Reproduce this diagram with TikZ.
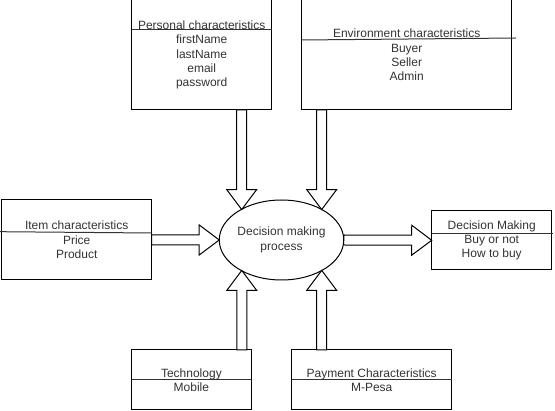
\documentclass[tikz,border=0pt]{standalone}
\usepackage{fontspec}
\setmainfont{Liberation Sans}
\usetikzlibrary{calc,shapes.geometric}
\newcommand\blockarr[2]{%
  \coordinate (hb) at ($(#2)!20pt!(#1)$);
  \draw[blockarrow] ($(#1)!5pt!90:(#2)$) -- ($(hb)!5pt!-90:(#1)$) -- ($(hb)!15pt!-90:(#1)$) -- (#2) -- ($(hb)!15pt!90:(#1)$) -- ($(hb)!5pt!90:(#1)$) -- ($(#1)!5pt!-90:(#2)$) -- cycle;}
\begin{document}
\begin{tikzpicture}[x=1pt,y=-1pt,
  box/.style={draw=black,line width=1pt,fill=white,inner sep=0pt,outer sep=0pt,align=center,
    text=black!80,font=\fontsize{12pt}{14.4pt}\selectfont},
  proc/.style={ellipse,draw=black,line width=1pt,fill=white,inner sep=0pt,outer sep=0pt,
    minimum width=120pt,minimum height=80pt,align=center,text=black!80,
    font=\fontsize{12pt}{14.4pt}\selectfont},
  blockarrow/.style={draw=black,line width=1pt,fill=white,line join=miter},
  divider/.style={draw=black!80,line width=1pt}]
\useasboundingbox (0,0) rectangle (555,411);
\node[box,minimum width=140pt,minimum height=110pt] (personal) at (201.7,55)
  {Personal characteristics\\firstName\\lastName\\email\\password};
\node[box,minimum width=210pt,minimum height=110pt] (env) at (406.7,55)
  {Environment characteristics\\Buyer\\Seller\\Admin};
\node[box,minimum width=150pt,minimum height=80pt] (item) at (76.7,240)
  {Item characteristics\\Price\\Product};
\node[box,minimum width=120pt,minimum height=59pt] (decm) at (491.7,240.3)
  {Decision Making\\Buy or not\\How to buy};
\node[box,minimum width=119.3pt,minimum height=60pt] (tech) at (191.4,380)
  {Technology\\Mobile};
\node[box,minimum width=160pt,minimum height=60pt] (pay) at (371.7,380)
  {Payment Characteristics\\M-Pesa};
\node[proc] (dec) at (281.5,240) {Decision making\\process};
% dividers
\draw[divider] (131.7,30) -- (271.7,30);
\draw[divider] (301.7,40) -- (516,38);
\draw[divider] (0,231.7) -- (152,233);
\draw[divider] (431.7,233.3) -- (552.7,233.3);
\draw[divider] (131.7,380) -- (251,380);
\draw[divider] (291.7,380) -- (451.7,380);
% arrows
\coordinate (s1) at ($(personal.south west)+(110,0)$);
\coordinate (s2) at ($(env.south west)+(20,0)$);
\coordinate (s3) at ($(tech.north west)+(110,0)$);
\coordinate (s4) at ($(pay.north west)+(30,0)$);
\coordinate (t1) at (s1 |- dec.143);
\coordinate (t2) at (s2 |- dec.37);
\coordinate (t3) at (s3 |- dec.217);
\coordinate (t4) at (s4 |- dec.323);
\blockarr{s1}{t1}
\blockarr{s2}{t2}
\blockarr{s3}{t3}
\blockarr{s4}{t4}
\blockarr{item.east}{dec.west}
\blockarr{dec.east}{decm.west}
\end{tikzpicture}
\end{document}
